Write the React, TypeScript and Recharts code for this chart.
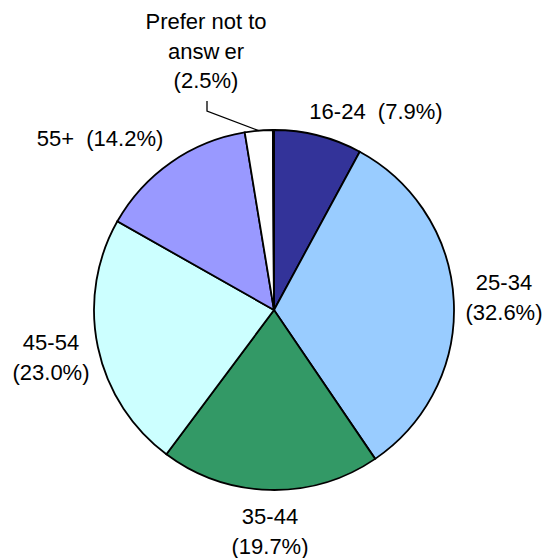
import React from "react";
import { Cell, Pie, PieChart } from "recharts";

// Age bands, clockwise from 12 o'clock.
const AGE_BANDS = ["16-24", "25-34", "35-44", "45-54", "55+", "Prefer not to answer", "Not stated"];
const SHARES = [7.9, 32.6, 19.7, 23.0, 14.2, 2.5, 0.1];
const COLORS = ["#333399", "#99CCFF", "#339966", "#CCFFFF", "#9999FF", "#FFFFFF", "#FFFFFF"];

// Label text lines per band (empty = no label drawn).
const LABEL_LINES: string[][] = [
  ["16-24  (7.9%)"],
  ["25-34", "(32.6%)"],
  ["35-44", "(19.7%)"],
  ["45-54", "(23.0%)"],
  ["55+  (14.2%)"],
  ["Prefer not to", "answer", "(2.5%)"],
  [],
];

// Where each label block sits, as an offset from the pie centre (first baseline).
const LABEL_OFFSET: [number, number][] = [
  [102, -191],
  [230, -20],
  [-4, 214],
  [-223, 40],
  [-174, -164],
  [-68, -281],
  [0, 0],
];

const LINE_GAP = 29.5;
const FONT = "'Liberation Sans', Arial, sans-serif";
const RAD = Math.PI / 180;

const data = AGE_BANDS.map((band, i) => ({ band, share: SHARES[i] }));

function renderLabel(props: any) {
  const { cx, cy, midAngle, outerRadius, index } = props;
  const lines = LABEL_LINES[index];
  if (!lines || lines.length === 0) return null;
  const [dx, dy] = LABEL_OFFSET[index];
  const x = cx + dx;
  const y0 = cy + dy;

  // The thin slice gets a leader line from under its label to the rim.
  let leader: React.ReactNode = null;
  if (index === 5) {
    const ex = cx + outerRadius * Math.cos(-midAngle * RAD);
    const ey = cy + outerRadius * Math.sin(-midAngle * RAD);
    const lx = x + 1;
    leader = (
      <polyline
        points={`${lx},${y0 + 2 * LINE_GAP + 13} ${lx},${y0 + 2 * LINE_GAP + 23} ${ex},${ey}`}
        fill="none"
        stroke="#000"
        strokeWidth={1.3}
      />
    );
  }

  return (
    <g key={`label-${index}`}>
      {leader}
      {lines.map((line, j) => (
        <text
          key={j}
          x={x}
          y={y0 + j * LINE_GAP}
          textAnchor="middle"
          fill="#000"
          fontSize={22}
          fontFamily={FONT}
          style={{ whiteSpace: "pre" }}
        >
          {line === "answer" ? (
            <>
              <tspan>answ</tspan>
              <tspan dx={5}>er</tspan>
            </>
          ) : (
            line
          )}
        </text>
      ))}
    </g>
  );
}

export default function App() {
  return (
    <div style={{ position: "absolute", left: 0, top: 0, width: 542, height: 558, background: "#fff" }}>
      <PieChart width={542} height={558} margin={{ top: 0, right: 0, bottom: 0, left: 0 }}>
        <Pie
          data={data}
          dataKey="share"
          nameKey="band"
          cx={274}
          cy={310}
          outerRadius={180}
          startAngle={90}
          endAngle={-270}
          stroke="#000"
          strokeWidth={1.8}
          label={renderLabel}
          labelLine={false}
          isAnimationActive={false}
        >
          {data.map((d, i) => (
            <Cell key={d.band} fill={COLORS[i]} />
          ))}
        </Pie>
      </PieChart>
    </div>
  );
}
